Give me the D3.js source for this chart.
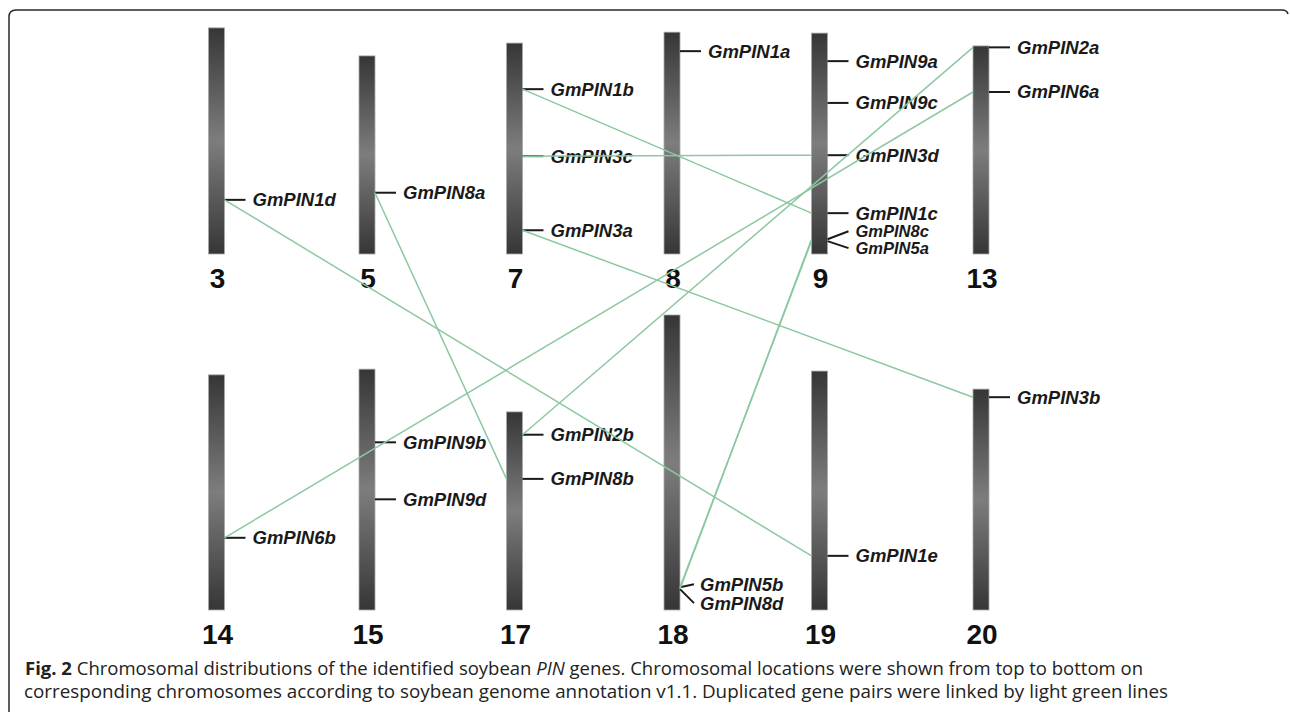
<!DOCTYPE html>
<html>
<head>
<meta charset="utf-8">
<script src="https://cdn.jsdelivr.net/npm/d3@7"></script>
<style>
  html, body { margin: 0; padding: 0; background: #fff; }
  svg { display: block; }
</style>
</head>
<body>
<svg id="fig" width="1290" height="712"></svg>
<script>
// Soybean chromosomes carrying PIN genes (lengths in Mb)
const chromosomes = ["3", "5", "7", "8", "9", "13", "14", "15", "17", "18", "19", "20"];
const chromLengthMb = [47.6, 41.7, 44.4, 46.7, 46.5, 43.8, 49.5, 50.7, 41.7, 62.1, 50.3, 46.5];

// PIN genes: name, chromosome, position from the top of the chromosome (Mb)
const geneNames = ["GmPIN1d", "GmPIN8a", "GmPIN1b", "GmPIN3c", "GmPIN3a", "GmPIN1a",
  "GmPIN9a", "GmPIN9c", "GmPIN3d", "GmPIN1c", "GmPIN8c", "GmPIN5a", "GmPIN2a", "GmPIN6a",
  "GmPIN6b", "GmPIN9b", "GmPIN9d", "GmPIN2b", "GmPIN8b", "GmPIN5b", "GmPIN8d", "GmPIN1e", "GmPIN3b"];
const geneChrom = ["3", "5", "7", "7", "7", "8",
  "9", "9", "9", "9", "9", "9", "13", "13",
  "14", "15", "15", "17", "17", "18", "18", "19", "20"];
const genePosMb = [36.2, 28.8, 9.7, 23.8, 39.4, 4.0,
  5.9, 14.7, 25.7, 37.9, 43.4, 43.8, 0.3, 9.7,
  34.3, 15.4, 27.4, 4.8, 14.1, 57.3, 57.7, 38.9, 1.7];

// Duplicated gene pairs
const linkPairs = [
  ["GmPIN1d", "GmPIN1e"], ["GmPIN8a", "GmPIN8b"], ["GmPIN1b", "GmPIN1c"],
  ["GmPIN3c", "GmPIN3d"], ["GmPIN3a", "GmPIN3b"], ["GmPIN2a", "GmPIN2b"],
  ["GmPIN6a", "GmPIN6b"], ["GmPIN8c", "GmPIN8d"], ["GmPIN5a", "GmPIN5b"]
];

// ---- layout ----
const colCenters = [216.5, 367, 514.5, 672, 819.5, 981];
const rowBottom = [254, 610];
const chrW = 16;
const perRow = 6;

// labels of closely spaced genes are fanned apart
const labelNudge = { GmPIN8c: -8, GmPIN5a: 7, GmPIN5b: -3, GmPIN8d: 14 };
const labelSize = { GmPIN8c: 16.5, GmPIN5a: 16.5 };
const shortTick = { GmPIN5b: true, GmPIN8d: true };

const svg = d3.select("#fig");

const lenScale = d3.scaleLinear().domain([0, 62.1]).range([0, 295]);
const colScale = d3.scaleOrdinal().domain(d3.range(perRow)).range(colCenters);

const chroms = chromosomes.map((name, i) => {
  const row = Math.floor(i / perRow);
  const cx = colScale(i % perRow);
  const bottom = rowBottom[row];
  const top = bottom - lenScale(chromLengthMb[i]);
  return { name, row, col: i % perRow, cx, top, bottom };
});
const chromByName = new Map(chroms.map(c => [c.name, c]));

const genes = geneNames.map((name, i) => {
  const c = chromByName.get(geneChrom[i]);
  return { name, chrom: c, y: c.top + lenScale(genePosMb[i]) };
});
const geneByName = new Map(genes.map(g => [g.name, g]));

// gradient for the chromosome bodies
const defs = svg.append("defs");
const grad = defs.append("linearGradient")
  .attr("id", "chromFill").attr("x1", 0).attr("y1", 0).attr("x2", 0).attr("y2", 1);
grad.append("stop").attr("offset", "0%").attr("stop-color", "#363636");
grad.append("stop").attr("offset", "50%").attr("stop-color", "#7d7d7d");
grad.append("stop").attr("offset", "100%").attr("stop-color", "#363636");

// frame around the figure
svg.append("path")
  .attr("d", "M9,712 V17 Q9,10 16,10 H1282 Q1287,10 1288,14")
  .attr("fill", "none").attr("stroke", "#2a2a2a").attr("stroke-width", 1.5);

// chromosomes
svg.append("g").selectAll("rect").data(chroms).join("rect")
  .attr("x", d => d.cx - chrW / 2)
  .attr("y", d => d.top)
  .attr("width", chrW)
  .attr("height", d => d.bottom - d.top)
  .attr("fill", "url(#chromFill)")
  .attr("stroke", "#a8a8a8")
  .attr("stroke-width", 0.8);

// chromosome numbers
svg.append("g").selectAll("text").data(chroms).join("text")
  .attr("x", d => d.cx + 1)
  .attr("y", d => d.bottom + 34)
  .attr("text-anchor", "middle")
  .attr("font-family", "Liberation Sans, Arial, sans-serif")
  .attr("font-weight", "bold")
  .attr("font-size", 28)
  .attr("fill", "#111")
  .text(d => d.name);

// gene ticks and labels
const geneG = svg.append("g");
geneG.selectAll("line").data(genes).join("line")
  .attr("x1", d => d.chrom.cx + chrW / 2)
  .attr("y1", d => d.y)
  .attr("x2", d => d.chrom.cx + chrW / 2 + (shortTick[d.name] ? 14 : 21))
  .attr("y2", d => d.y + (labelNudge[d.name] || 0))
  .attr("stroke", "#1a1a1a")
  .attr("stroke-width", 2);

geneG.selectAll("text").data(genes).join("text")
  .attr("x", d => d.chrom.cx + chrW / 2 + (shortTick[d.name] ? 20 : 28))
  .attr("y", d => d.y + (labelNudge[d.name] || 0))
  .attr("dy", "0.35em")
  .attr("font-family", "Liberation Sans, Arial, sans-serif")
  .attr("font-weight", "bold")
  .attr("font-style", "italic")
  .attr("font-size", d => labelSize[d.name] || 18.5)
  .attr("fill", "#1a1a1a")
  .text(d => d.name);

// duplication links
const links = linkPairs.map(([a, b]) => {
  const ga = geneByName.get(a), gb = geneByName.get(b);
  const aLeft = ga.chrom.col < gb.chrom.col ||
    (ga.chrom.col === gb.chrom.col && ga.chrom.row < gb.chrom.row);
  const xa = ga.chrom.cx + (aLeft ? chrW / 2 : -chrW / 2);
  const xb = gb.chrom.cx + (aLeft ? -chrW / 2 : chrW / 2);
  return { xa, ya: ga.y, xb, yb: gb.y };
});
svg.append("g").selectAll("line").data(links).join("line")
  .attr("x1", d => d.xa).attr("y1", d => d.ya)
  .attr("x2", d => d.xb).attr("y2", d => d.yb)
  .attr("stroke", "#8cc8a0")
  .attr("stroke-width", 1.5);

// caption
const cap = svg.append("g")
  .attr("font-family", "Open Sans, Noto Sans, sans-serif")
  .attr("font-size", 18)
  .attr("fill", "#222");
const l1 = cap.append("text").attr("x", 25).attr("y", 675)
  .attr("textLength", 1118).attr("lengthAdjust", "spacingAndGlyphs");
l1.append("tspan").attr("font-weight", "bold").text("Fig. 2");
l1.append("tspan").text(" Chromosomal distributions of the identified soybean ");
l1.append("tspan").attr("font-style", "italic").text("PIN");
l1.append("tspan").text(" genes. Chromosomal locations were shown from top to bottom on");
cap.append("text").attr("x", 24).attr("y", 698)
  .attr("textLength", 1144).attr("lengthAdjust", "spacingAndGlyphs")
  .text("corresponding chromosomes according to soybean genome annotation v1.1. Duplicated gene pairs were linked by light green lines");
</script>
</body>
</html>
